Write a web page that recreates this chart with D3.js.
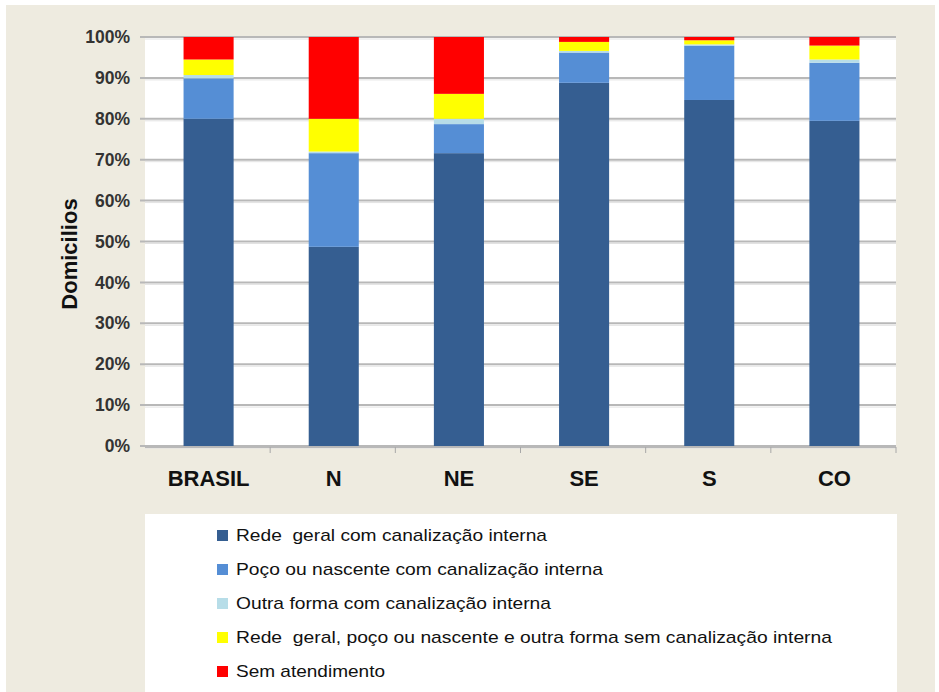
<!DOCTYPE html>
<html><head><meta charset="utf-8">
<script src="https://cdn.jsdelivr.net/npm/d3@7"></script>
<style>body{margin:0;background:#fff} text{white-space:pre}</style>
</head><body>
<script>
const categories = ["BRASIL","N","NE","SE","S","CO"];
const seriesNames = [
  "Rede  geral com canalização interna",
  "Poço ou nascente com canalização interna",
  "Outra forma com canalização interna",
  "Rede  geral, poço ou nascente e outra forma sem canalização interna",
  "Sem atendimento"
];
const redeGeral   = [80.0, 48.7, 71.6, 88.8, 84.6, 79.5];
const poco        = [ 9.9, 22.9,  7.1,  7.4, 13.3, 14.2];
const outraForma  = [ 0.8,  0.4,  1.3,  0.4,  0.3,  0.8];
const semCanal    = [ 3.8,  8.0,  6.1,  2.2,  1.0,  3.4];
const semAtend    = [ 5.5, 20.0, 13.9,  1.2,  0.8,  2.1];
const yTicks = [0,10,20,30,40,50,60,70,80,90,100];
const colors = ["#355E91","#558ED5","#B7DDE8","#FFFF00","#FF0000"];

const W=939,H=692;
const FONT="Liberation Sans, Arial, sans-serif";
const svg=d3.select("body").append("svg").attr("width",W).attr("height",H);
svg.append("rect").attr("x",6).attr("y",5).attr("width",929).attr("height",H-5).attr("fill","#EEEBE0");

const x=d3.scaleBand().domain(categories).range([145,896]).paddingInner(0.6).paddingOuter(0.3);
const y=d3.scaleLinear().domain([0,100]).range([446,37]);

svg.append("rect").attr("x",145).attr("y",37).attr("width",751).attr("height",409).attr("fill","#fff");

// gridlines
svg.append("g").selectAll("line").data(yTicks).join("line")
  .attr("x1",140).attr("x2",896).attr("y1",d=>y(d)).attr("y2",d=>y(d))
  .attr("stroke","#B8B8B8").attr("stroke-width",2);
svg.append("g").selectAll("line").data(yTicks).join("line")
  .attr("x1",145).attr("x2",896).attr("y1",d=>y(d)+2).attr("y2",d=>y(d)+2)
  .attr("stroke","#E2E2E2").attr("stroke-width",1);

// y axis labels
const yAxis=d3.axisLeft(y).tickValues(yTicks).tickFormat(d=>d+"%").tickSize(0).tickPadding(15);
const ya=svg.append("g").attr("transform","translate(145,0)").call(yAxis);
ya.select(".domain").remove();
ya.selectAll("text").attr("font-family",FONT).attr("font-size",17.5)
  .attr("font-weight","bold").attr("fill","#333");

// stacked bars
const table=categories.map((c,i)=>({cat:c,s0:redeGeral[i],s1:poco[i],s2:outraForma[i],s3:semCanal[i],s4:semAtend[i]}));
const stack=d3.stack().keys(["s0","s1","s2","s3","s4"])(table);
svg.append("g").selectAll("g").data(stack).join("g").attr("fill",(d,i)=>colors[i])
  .selectAll("rect").data(d=>d).join("rect")
  .attr("x",d=>x(d.data.cat)+1).attr("width",x.bandwidth())
  .attr("y",d=>y(d[1])).attr("height",d=>y(d[0])-y(d[1]));

// bottom axis
svg.append("line").attr("x1",145).attr("x2",896).attr("y1",447).attr("y2",447).attr("stroke","#B8B8B8").attr("stroke-width",2);
svg.append("g").selectAll("line").data(d3.range(1,7)).join("line")
  .attr("x1",d=>145+d*751/6).attr("x2",d=>145+d*751/6).attr("y1",447).attr("y2",453)
  .attr("stroke","#A8A8A8").attr("stroke-width",1);
svg.append("g").selectAll("text").data(categories).join("text")
  .attr("x",d=>x(d)+x.bandwidth()/2+1).attr("y",486).attr("text-anchor","middle")
  .attr("font-family",FONT).attr("font-size",22).attr("font-weight","bold")
  .attr("fill","#111").text(d=>d);

// y title
svg.append("text").attr("transform","translate(77,254) rotate(-90)").attr("text-anchor","middle")
  .attr("font-family",FONT).attr("font-size",22).attr("font-weight","bold")
  .attr("fill","#111").text("Domicilios");

// legend
svg.append("rect").attr("x",145).attr("y",514).attr("width",752).attr("height",H-514).attr("fill","#fff");
const targetW=[311,367,315,596,149];
const lg=svg.append("g").selectAll("g").data(seriesNames).join("g")
  .attr("transform",(d,i)=>`translate(217,${535+i*34})`);
lg.append("rect").attr("x",0).attr("y",-5).attr("width",11).attr("height",11).attr("fill",(d,i)=>colors[i]);
lg.append("text").attr("x",19).attr("y",6).attr("font-family",FONT)
  .attr("font-size",17).attr("fill","#111").text(d=>d)
  .attr("textLength",(d,i)=>targetW[i]).attr("lengthAdjust","spacingAndGlyphs");
</script>
</body></html>
